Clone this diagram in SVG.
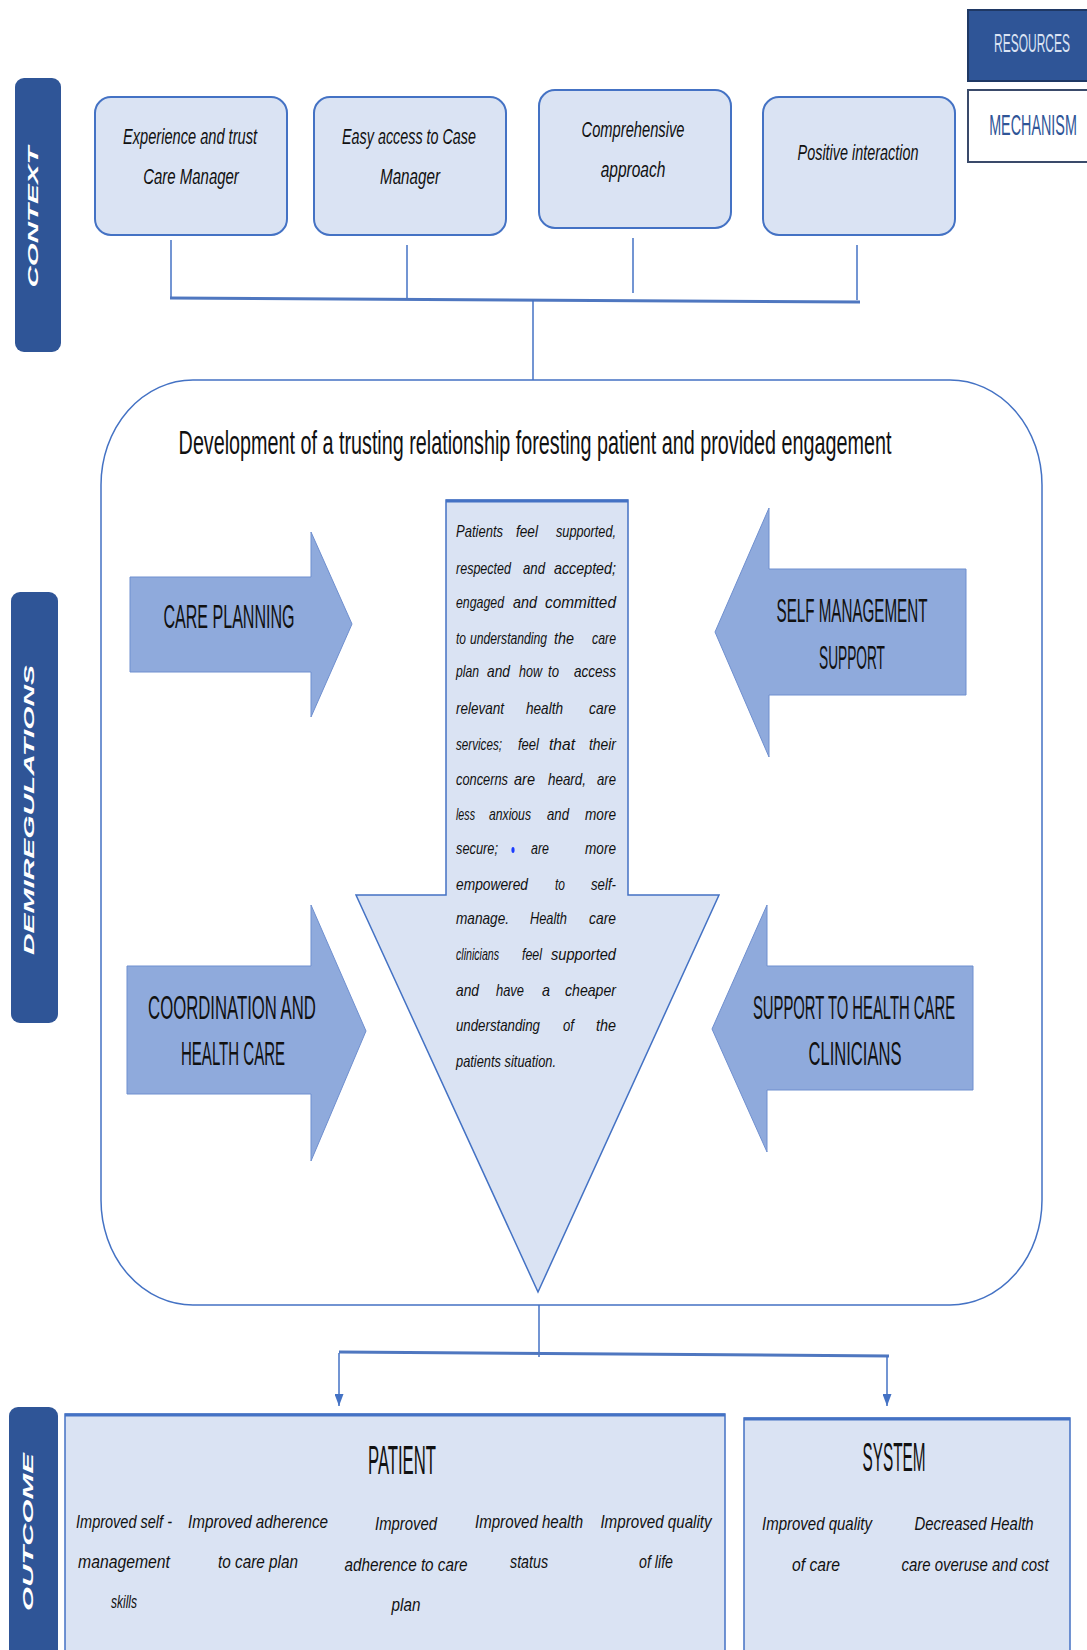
<svg xmlns="http://www.w3.org/2000/svg" width="1087" height="1650" viewBox="0 0 1087 1650">
<style>
.bar{fill:#2F5597;}
.bartxt{fill:#ffffff;font-family:"Liberation Sans",Arial,sans-serif;font-weight:bold;font-style:italic;font-size:15px;}
.ctx{fill:#DAE3F3;stroke:#4472C4;stroke-width:2;}
.ctxt{font-family:"Liberation Sans",Arial,sans-serif;font-style:italic;font-size:22px;fill:#111;}
.arr{fill:#8FAADC;stroke:#6F8FCF;stroke-width:1;}
.head{font-family:"Liberation Sans",Arial,sans-serif;font-size:34px;fill:#111;}
.lt{fill:#DAE3F3;stroke:#4472C4;stroke-width:1.5;}
.ct{font-family:"Liberation Sans",Arial,sans-serif;font-style:italic;font-size:16px;fill:#111;}
.ot{font-family:"Liberation Sans",Arial,sans-serif;font-style:italic;font-size:19px;fill:#111;}
.big{font-family:"Liberation Sans",Arial,sans-serif;font-size:40px;fill:#111;}
.ln{stroke:#4472C4;stroke-width:1.5;fill:none;}
.lnb{stroke:#4F77C0;stroke-width:3;fill:none;}
</style>
<defs>
<marker id="ah" markerWidth="12" markerHeight="9" refX="12" refY="4.5" orient="auto" markerUnits="userSpaceOnUse" viewBox="0 0 12 9">
<path d="M0,0 L12,4.5 L0,9 Z" fill="#4472C4"/>
</marker>
</defs>
<rect width="1087" height="1650" fill="#ffffff"/>

<g id="legend-resources">
<rect x="968" y="10" width="125" height="71" fill="#2F5597" stroke="#1F3864" stroke-width="2"/>
<text transform="translate(1032,52) scale(0.48,1)" text-anchor="middle" textLength="158" lengthAdjust="spacingAndGlyphs" font-family="Liberation Sans, Arial, sans-serif" font-size="26" fill="#DAE3F3">RESOURCES</text>
</g>
<g id="legend-mechanism">
<rect x="968" y="90" width="125" height="72" fill="#ffffff" stroke="#3A4A6A" stroke-width="2"/>
<text transform="translate(1033,135) scale(0.45,1)" text-anchor="middle" textLength="195" lengthAdjust="spacingAndGlyphs" font-family="Liberation Sans, Arial, sans-serif" font-size="30" fill="#2F5597">MECHANISM</text>
</g>

<g id="label-context">
<rect class="bar" x="15" y="78" width="46" height="274" rx="9"/>
<text class="bartxt" transform="translate(38,217) rotate(-90)" text-anchor="middle" textLength="141" lengthAdjust="spacingAndGlyphs">CONTEXT</text>
</g>
<g id="label-demiregulations">
<rect class="bar" x="11" y="592" width="47" height="431" rx="9"/>
<text class="bartxt" transform="translate(34,810) rotate(-90)" text-anchor="middle" textLength="290" lengthAdjust="spacingAndGlyphs">DEMIREGULATIONS</text>
</g>
<g id="label-outcome">
<rect class="bar" x="9" y="1407" width="49" height="270" rx="9"/>
<text class="bartxt" transform="translate(33,1532) rotate(-90)" text-anchor="middle" textLength="158" lengthAdjust="spacingAndGlyphs">OUTCOME</text>
</g>

<g id="ctx-experience">
<rect class="ctx" x="95" y="97" width="192" height="138" rx="16"/>
<text class="ctxt" transform="translate(190,144) scale(0.66,1)" text-anchor="middle" textLength="203" lengthAdjust="spacingAndGlyphs">Experience and trust</text>
<text class="ctxt" transform="translate(191,184) scale(0.66,1)" text-anchor="middle" textLength="145" lengthAdjust="spacingAndGlyphs">Care Manager</text>
</g>
<g id="ctx-access">
<rect class="ctx" x="314" y="97" width="192" height="138" rx="16"/>
<text class="ctxt" transform="translate(409,144) scale(0.66,1)" text-anchor="middle" textLength="203" lengthAdjust="spacingAndGlyphs">Easy access to Case</text>
<text class="ctxt" transform="translate(410,184) scale(0.66,1)" text-anchor="middle" textLength="91" lengthAdjust="spacingAndGlyphs">Manager</text>
</g>
<g id="ctx-comprehensive">
<rect class="ctx" x="539" y="90" width="192" height="138" rx="16"/>
<text class="ctxt" transform="translate(633,137) scale(0.66,1)" text-anchor="middle" textLength="156" lengthAdjust="spacingAndGlyphs">Comprehensive</text>
<text class="ctxt" transform="translate(633,177) scale(0.66,1)" text-anchor="middle" textLength="98" lengthAdjust="spacingAndGlyphs">approach</text>
</g>
<g id="ctx-positive">
<rect class="ctx" x="763" y="97" width="192" height="138" rx="16"/>
<text class="ctxt" transform="translate(858,160) scale(0.66,1)" text-anchor="middle" textLength="183" lengthAdjust="spacingAndGlyphs">Positive interaction</text>
</g>

<g id="connectors">
<line class="ln" x1="171" y1="240" x2="171" y2="299"/>
<line class="ln" x1="407" y1="245" x2="407" y2="299"/>
<line class="ln" x1="633" y1="238" x2="633" y2="293"/>
<line class="ln" x1="857" y1="245" x2="857" y2="300"/>
<line class="lnb" x1="170" y1="298" x2="860" y2="302"/>
<line class="ln" x1="533" y1="300" x2="533" y2="380"/>
<line class="ln" x1="539" y1="1305" x2="539" y2="1357"/>
<line class="lnb" x1="339" y1="1352" x2="889" y2="1356"/>
<line class="ln" x1="339" y1="1353" x2="339" y2="1406" marker-end="url(#ah)"/>
<line class="ln" x1="887" y1="1356" x2="887" y2="1406" marker-end="url(#ah)"/>
</g>

<g id="mechanism-frame">
<rect x="101" y="380" width="941" height="925" rx="92" ry="105" fill="none" stroke="#4472C4" stroke-width="1.5"/>
<text transform="translate(535,454) scale(0.54,1)" text-anchor="middle" textLength="1320" lengthAdjust="spacingAndGlyphs" font-family="Liberation Sans, Arial, sans-serif" font-size="33" fill="#111">Development of a trusting relationship foresting patient and provided engagement</text>
</g>

<g id="arrow-care-planning">
<polygon class="arr" points="130,577 311,577 311,532 352,624 311,717 311,672 130,672"/>
<text class="head" transform="translate(229,628) scale(0.47,1)" text-anchor="middle" textLength="279" lengthAdjust="spacingAndGlyphs">CARE PLANNING</text>
</g>
<g id="arrow-self-management">
<polygon class="arr" points="966,569 769,569 769,508 715,632 769,757 769,695 966,695"/>
<text class="head" transform="translate(852,622) scale(0.435,1)" text-anchor="middle" textLength="347" lengthAdjust="spacingAndGlyphs">SELF MANAGEMENT</text>
<text class="head" transform="translate(852,669) scale(0.4,1)" text-anchor="middle" textLength="165" lengthAdjust="spacingAndGlyphs">SUPPORT</text>
</g>
<g id="arrow-coordination">
<polygon class="arr" points="127,966 311,966 311,905 366,1031 311,1161 311,1094 127,1094"/>
<text class="head" transform="translate(232,1019) scale(0.45,1)" text-anchor="middle" textLength="373" lengthAdjust="spacingAndGlyphs">COORDINATION AND</text>
<text class="head" transform="translate(233,1065) scale(0.435,1)" text-anchor="middle" textLength="239" lengthAdjust="spacingAndGlyphs">HEALTH CARE</text>
</g>
<g id="arrow-support-clinicians">
<polygon class="arr" points="973,966 767,966 767,905 712,1029 767,1152 767,1090 973,1090"/>
<text class="head" transform="translate(854,1019) scale(0.415,1)" text-anchor="middle" textLength="487" lengthAdjust="spacingAndGlyphs">SUPPORT TO HEALTH CARE</text>
<text class="head" transform="translate(855,1065) scale(0.455,1)" text-anchor="middle" textLength="204" lengthAdjust="spacingAndGlyphs">CLINICIANS</text>
</g>

<g id="center-engagement">
<polygon class="lt" points="446,500 628,500 628,895 719,895 538,1292 356,895 446,895"/>
<line x1="446" y1="501" x2="628" y2="501" stroke="#4472C4" stroke-width="3"/>
<g class="ct" transform="scale(0.8,1)">
<text x="570" y="537" textLength="58.75" lengthAdjust="spacingAndGlyphs">Patients</text>
<text x="645" y="537" textLength="27.5" lengthAdjust="spacingAndGlyphs">feel</text>
<text x="695" y="537" textLength="75" lengthAdjust="spacingAndGlyphs">supported,</text>
<text x="570" y="574" textLength="68.75" lengthAdjust="spacingAndGlyphs">respected</text>
<text x="653.75" y="574" textLength="27.5" lengthAdjust="spacingAndGlyphs">and</text>
<text x="692.5" y="574" textLength="77.5" lengthAdjust="spacingAndGlyphs">accepted;</text>
<text x="570" y="608" textLength="60" lengthAdjust="spacingAndGlyphs">engaged</text>
<text x="641.25" y="608" textLength="30" lengthAdjust="spacingAndGlyphs">and</text>
<text x="681.25" y="608" textLength="88.75" lengthAdjust="spacingAndGlyphs">committed</text>
<text x="570" y="644" textLength="12.5" lengthAdjust="spacingAndGlyphs">to</text>
<text x="587.5" y="644" textLength="96.25" lengthAdjust="spacingAndGlyphs">understanding</text>
<text x="692.5" y="644" textLength="25" lengthAdjust="spacingAndGlyphs">the</text>
<text x="740" y="644" textLength="30" lengthAdjust="spacingAndGlyphs">care</text>
<text x="570" y="677" textLength="28.75" lengthAdjust="spacingAndGlyphs">plan</text>
<text x="608.75" y="677" textLength="28.75" lengthAdjust="spacingAndGlyphs">and</text>
<text x="648.75" y="677" textLength="28.75" lengthAdjust="spacingAndGlyphs">how</text>
<text x="685" y="677" textLength="13.75" lengthAdjust="spacingAndGlyphs">to</text>
<text x="717.5" y="677" textLength="52.5" lengthAdjust="spacingAndGlyphs">access</text>
<text x="570" y="714" textLength="60" lengthAdjust="spacingAndGlyphs">relevant</text>
<text x="657.5" y="714" textLength="46.25" lengthAdjust="spacingAndGlyphs">health</text>
<text x="736.25" y="714" textLength="33.75" lengthAdjust="spacingAndGlyphs">care</text>
<text x="570" y="750" textLength="57.5" lengthAdjust="spacingAndGlyphs">services;</text>
<text x="647.5" y="750" textLength="26.25" lengthAdjust="spacingAndGlyphs">feel</text>
<text x="686.25" y="750" textLength="32.5" lengthAdjust="spacingAndGlyphs">that</text>
<text x="736.25" y="750" textLength="33.75" lengthAdjust="spacingAndGlyphs">their</text>
<text x="570" y="785" textLength="65" lengthAdjust="spacingAndGlyphs">concerns</text>
<text x="642.5" y="785" textLength="26.25" lengthAdjust="spacingAndGlyphs">are</text>
<text x="685" y="785" textLength="47.5" lengthAdjust="spacingAndGlyphs">heard,</text>
<text x="746.25" y="785" textLength="23.75" lengthAdjust="spacingAndGlyphs">are</text>
<text x="570" y="820" textLength="23.75" lengthAdjust="spacingAndGlyphs">less</text>
<text x="611.25" y="820" textLength="52.5" lengthAdjust="spacingAndGlyphs">anxious</text>
<text x="683.75" y="820" textLength="27.5" lengthAdjust="spacingAndGlyphs">and</text>
<text x="731.25" y="820" textLength="38.75" lengthAdjust="spacingAndGlyphs">more</text>
<text x="570" y="854" textLength="52.5" lengthAdjust="spacingAndGlyphs">secure;</text>
<text x="663.75" y="854" textLength="22.5" lengthAdjust="spacingAndGlyphs">are</text>
<text x="731.25" y="854" textLength="38.75" lengthAdjust="spacingAndGlyphs">more</text>
<text x="570" y="890" textLength="90" lengthAdjust="spacingAndGlyphs">empowered</text>
<text x="693.75" y="890" textLength="12.5" lengthAdjust="spacingAndGlyphs">to</text>
<text x="738.75" y="890" textLength="31.25" lengthAdjust="spacingAndGlyphs">self-</text>
<text x="570" y="924" textLength="66.25" lengthAdjust="spacingAndGlyphs">manage.</text>
<text x="662.5" y="924" textLength="46.25" lengthAdjust="spacingAndGlyphs">Health</text>
<text x="736.25" y="924" textLength="33.75" lengthAdjust="spacingAndGlyphs">care</text>
<text x="570" y="960" textLength="53.75" lengthAdjust="spacingAndGlyphs">clinicians</text>
<text x="652.5" y="960" textLength="25" lengthAdjust="spacingAndGlyphs">feel</text>
<text x="688.75" y="960" textLength="81.25" lengthAdjust="spacingAndGlyphs">supported</text>
<text x="570" y="996" textLength="28.75" lengthAdjust="spacingAndGlyphs">and</text>
<text x="620" y="996" textLength="35" lengthAdjust="spacingAndGlyphs">have</text>
<text x="677.5" y="996" textLength="10" lengthAdjust="spacingAndGlyphs">a</text>
<text x="706.25" y="996" textLength="63.75" lengthAdjust="spacingAndGlyphs">cheaper</text>
<text x="570" y="1031" textLength="105" lengthAdjust="spacingAndGlyphs">understanding</text>
<text x="703.75" y="1031" textLength="13.75" lengthAdjust="spacingAndGlyphs">of</text>
<text x="745" y="1031" textLength="25" lengthAdjust="spacingAndGlyphs">the</text>
<text x="570" y="1067" textLength="125" lengthAdjust="spacingAndGlyphs">patients situation.</text>
</g>
<ellipse cx="513" cy="850" rx="1.6" ry="3" fill="#1a3cff"/>
</g>

<g id="outcome-patient">
<rect class="lt" x="65" y="1414" width="660" height="250"/>
<line x1="65" y1="1415" x2="725" y2="1415" stroke="#4472C4" stroke-width="3"/>
<text class="big" transform="translate(402,1474) scale(0.36,1)" text-anchor="middle" textLength="189" lengthAdjust="spacingAndGlyphs">PATIENT</text>
<g class="ot" text-anchor="middle">
<text transform="translate(124,1528) scale(0.8,1)" textLength="120" lengthAdjust="spacingAndGlyphs">Improved self -</text>
<text transform="translate(124,1568) scale(0.8,1)" textLength="115" lengthAdjust="spacingAndGlyphs">management</text>
<text transform="translate(124,1608) scale(0.8,1)" textLength="32.5" lengthAdjust="spacingAndGlyphs">skills</text>
<text transform="translate(258,1528) scale(0.8,1)" textLength="175" lengthAdjust="spacingAndGlyphs">Improved adherence</text>
<text transform="translate(258,1568) scale(0.8,1)" textLength="100" lengthAdjust="spacingAndGlyphs">to care plan</text>
<text transform="translate(406,1530) scale(0.8,1)" textLength="77.5" lengthAdjust="spacingAndGlyphs">Improved</text>
<text transform="translate(406,1571) scale(0.8,1)" textLength="154" lengthAdjust="spacingAndGlyphs">adherence to care</text>
<text transform="translate(406,1611) scale(0.8,1)" textLength="36" lengthAdjust="spacingAndGlyphs">plan</text>
<text transform="translate(529,1528) scale(0.8,1)" textLength="135" lengthAdjust="spacingAndGlyphs">Improved health</text>
<text transform="translate(529,1568) scale(0.8,1)" textLength="47.5" lengthAdjust="spacingAndGlyphs">status</text>
<text transform="translate(656,1528) scale(0.8,1)" textLength="139" lengthAdjust="spacingAndGlyphs">Improved quality</text>
<text transform="translate(656,1568) scale(0.8,1)" textLength="42.5" lengthAdjust="spacingAndGlyphs">of life</text>
</g>
</g>

<g id="outcome-system">
<rect class="lt" x="744" y="1418" width="326" height="250"/>
<line x1="744" y1="1419" x2="1070" y2="1419" stroke="#4472C4" stroke-width="3"/>
<text class="big" transform="translate(894,1471) scale(0.39,1)" text-anchor="middle" textLength="161.5" lengthAdjust="spacingAndGlyphs">SYSTEM</text>
<g class="ot" text-anchor="middle">
<text transform="translate(817,1530) scale(0.8,1)" textLength="137.5" lengthAdjust="spacingAndGlyphs">Improved quality</text>
<text transform="translate(816,1571) scale(0.8,1)" textLength="60" lengthAdjust="spacingAndGlyphs">of care</text>
<text transform="translate(974,1530) scale(0.8,1)" textLength="149" lengthAdjust="spacingAndGlyphs">Decreased Health</text>
<text transform="translate(975,1571) scale(0.8,1)" textLength="184" lengthAdjust="spacingAndGlyphs">care overuse and cost</text>
</g>
</g>
</svg>
